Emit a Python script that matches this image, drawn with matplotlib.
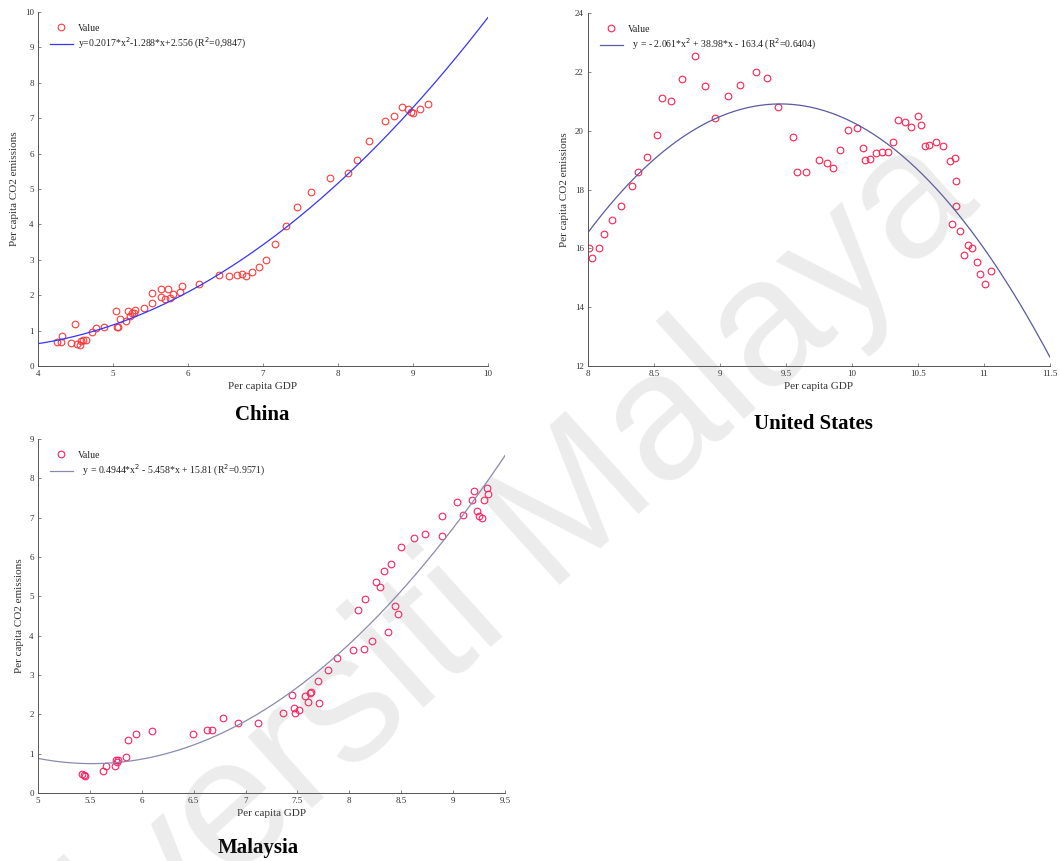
import matplotlib
matplotlib.use("Agg")
import numpy as np
import matplotlib.pyplot as plt

plt.rcParams['font.family'] = ['Liberation Serif', 'DejaVu Serif']

# China: per capita GDP vs per capita CO2
china_gdp = [4.25, 4.31, 4.32, 4.49, 4.44, 4.52, 4.56, 4.58, 4.60, 4.64, 4.72, 4.78, 4.88,
             5.04, 5.05, 5.07, 5.10, 5.18, 5.20, 5.23, 5.26, 5.28, 5.30, 5.41, 5.52, 5.52,
             5.64, 5.64, 5.69, 5.73, 5.76, 5.80, 5.90, 5.92, 6.15, 6.41, 6.55, 6.65, 6.72,
             6.77, 6.86, 6.95, 7.04, 7.16, 7.31, 7.46, 7.64, 7.89, 8.14, 8.25, 8.42, 8.63,
             8.75, 8.85, 8.94, 8.98, 9.00, 9.09, 9.20]
china_co2 = [0.67, 0.67, 0.86, 1.19, 0.64, 0.62, 0.60, 0.72, 0.74, 0.73, 0.95, 1.06, 1.10,
             1.55, 1.11, 1.11, 1.32, 1.27, 1.56, 1.41, 1.49, 1.51, 1.58, 1.65, 2.06, 1.77,
             2.17, 1.96, 1.90, 2.17, 1.93, 2.03, 2.09, 2.26, 2.33, 2.57, 2.53, 2.56, 2.61,
             2.53, 2.67, 2.79, 2.99, 3.45, 3.96, 4.48, 4.92, 5.32, 5.45, 5.82, 6.36, 6.92,
             7.07, 7.33, 7.27, 7.18, 7.14, 7.25, 7.41]
china_coef = [0.2017, -1.288, 2.556]

# United States
us_gdp = [8.01, 8.03, 8.08, 8.12, 8.18, 8.25, 8.33, 8.38, 8.45, 8.52, 8.56, 8.63, 8.71,
          8.81, 8.89, 8.96, 9.06, 9.15, 9.27, 9.36, 9.44, 9.55, 9.58, 9.65, 9.75, 9.81,
          9.86, 9.91, 9.97, 10.04, 10.08, 10.10, 10.14, 10.18, 10.23, 10.27, 10.31, 10.35,
          10.40, 10.45, 10.50, 10.52, 10.55, 10.58, 10.64, 10.69, 10.74, 10.78, 10.79,
          10.79, 10.76, 10.82, 10.88, 10.91, 10.85, 10.95, 10.97, 11.05, 11.01]
us_co2 = [16.00, 15.67, 16.00, 16.48, 16.96, 17.45, 18.12, 18.59, 19.09, 19.86, 21.12,
          21.00, 21.75, 22.53, 21.52, 20.42, 21.18, 21.55, 22.00, 21.80, 20.79, 19.78,
          18.58, 18.58, 18.99, 18.89, 18.72, 19.35, 20.01, 20.08, 19.42, 19.01, 19.03,
          19.24, 19.28, 19.26, 19.63, 20.36, 20.28, 20.11, 20.49, 20.18, 19.47, 19.51,
          19.61, 19.49, 18.97, 19.06, 18.30, 17.43, 16.82, 16.59, 16.10, 16.02, 15.76,
          15.52, 15.12, 15.23, 14.80]
us_coef = [-2.061, 38.98, -163.4]

# Malaysia
my_gdp = [5.42, 5.44, 5.45, 5.63, 5.66, 5.74, 5.75, 5.76, 5.77, 5.85, 5.87, 5.94, 6.10,
          6.49, 6.63, 6.68, 6.78, 6.93, 7.12, 7.36, 7.45, 7.47, 7.48, 7.52, 7.57, 7.60,
          7.62, 7.63, 7.71, 7.70, 7.79, 7.88, 8.04, 8.14, 8.22, 8.37, 8.47, 8.44, 8.08,
          8.15, 8.26, 8.30, 8.33, 8.40, 8.50, 8.62, 8.73, 8.89, 8.89, 9.04, 9.10, 9.18,
          9.20, 9.23, 9.25, 9.28, 9.30, 9.34, 9.33]
my_co2 = [0.48, 0.46, 0.43, 0.56, 0.69, 0.69, 0.84, 0.80, 0.84, 0.91, 1.35, 1.50, 1.58,
          1.51, 1.60, 1.60, 1.91, 1.77, 1.77, 2.03, 2.49, 2.17, 2.03, 2.11, 2.47, 2.32,
          2.53, 2.58, 2.28, 2.85, 3.12, 3.42, 3.63, 3.65, 3.86, 4.09, 4.56, 4.75, 4.66,
          4.94, 5.36, 5.25, 5.64, 5.82, 6.25, 6.48, 6.59, 6.53, 7.05, 7.39, 7.06, 7.45,
          7.68, 7.17, 7.04, 6.99, 7.46, 7.60, 7.76]
my_coef = [0.4944, -5.458, 15.81]

panels = [
    dict(name="China", x=china_gdp, y=china_co2, coef=china_coef,
         xlim=(4, 10), ylim=(0, 10), xticks=np.arange(4, 11, 1), yticks=np.arange(0, 11, 1),
         label="y=0.2017*x$^{2}$-1.288*x+2.556 (R$^{2}$=0,9847)",
         mc="#ff3a3a", lc="#3535ff",
         rect=[0.0358, 0.5749, 0.4245, 0.4111], title_xy=(0.2472, 0.518)),
    dict(name="United States", x=us_gdp, y=us_co2, coef=us_coef,
         xlim=(8, 11.5), ylim=(12, 24), xticks=np.arange(8, 11.6, 0.5), yticks=np.arange(12, 25, 2),
         label="  y = - 2.061*x$^{2}$ + 38.98*x - 163.4 (R$^{2}$=0.6404)",
         mc="#ff2050", lc="#5a5aa0",
         rect=[0.5547, 0.5749, 0.4358, 0.41], title_xy=(0.767, 0.5075)),
    dict(name="Malaysia", x=my_gdp, y=my_co2, coef=my_coef,
         xlim=(5, 9.5), ylim=(0, 9), xticks=np.arange(5, 9.6, 0.5), yticks=np.arange(0, 10, 1),
         label="  y = 0.4944*x$^{2}$ - 5.458*x + 15.81 (R$^{2}$=0.9571)",
         mc="#ff2060", lc="#8a8ab0",
         rect=[0.0358, 0.0790, 0.4406, 0.4111], title_xy=(0.2434, 0.0151)),
]


def fmt(v):
    return "%g" % v


fig = plt.figure(figsize=(10.6, 8.61), dpi=100)

for p in panels:
    ax = fig.add_axes(p["rect"])
    ax.plot(p["x"], p["y"], linestyle="none", marker="o", markersize=4.8,
            markerfacecolor="none", markeredgecolor=p["mc"], markeredgewidth=0.8,
            label="Value")
    xs = np.linspace(p["xlim"][0], p["xlim"][1], 200)
    ax.plot(xs, np.polyval(p["coef"], xs), color=p["lc"], linewidth=0.9, label=p["label"])

    ax.set_xlim(*p["xlim"])
    ax.set_ylim(*p["ylim"])
    ax.set_xticks(p["xticks"])
    ax.set_yticks(p["yticks"])
    ax.set_xticklabels([fmt(v) for v in p["xticks"]])
    ax.set_yticklabels([fmt(v) for v in p["yticks"]])
    for s in ["top", "right"]:
        ax.spines[s].set_visible(False)
    for s in ["left", "bottom"]:
        ax.spines[s].set_color("#555555")
        ax.spines[s].set_linewidth(0.7)
    ax.tick_params(direction="in", length=2.5, width=0.5, colors="#555555",
                   labelsize=6.5, labelcolor="#333333", pad=3)
    ax.set_xlabel("Per capita GDP", fontsize=8, color="#333333", labelpad=3)
    ax.set_ylabel("Per capita CO2 emissions", fontsize=8, color="#333333", labelpad=4)
    leg = ax.legend(loc="upper left", frameon=False, fontsize=7, handlelength=2.4,
                    borderaxespad=0.8, labelspacing=0.35, handletextpad=0.5)
    for t in leg.get_texts():
        t.set_color("#222222")
    fig.text(p["title_xy"][0], p["title_xy"][1], p["name"], fontsize=15,
             fontweight="bold", ha="center", va="center")

# watermark
fig.text(0.415, 0.268, "Universiti Malaya", family="Liberation Sans", fontsize=130,
         rotation=42, rotation_mode="anchor", ha="center", va="center",
         color="gray", alpha=0.15, zorder=10)

fig.savefig("out.png", dpi=100)
